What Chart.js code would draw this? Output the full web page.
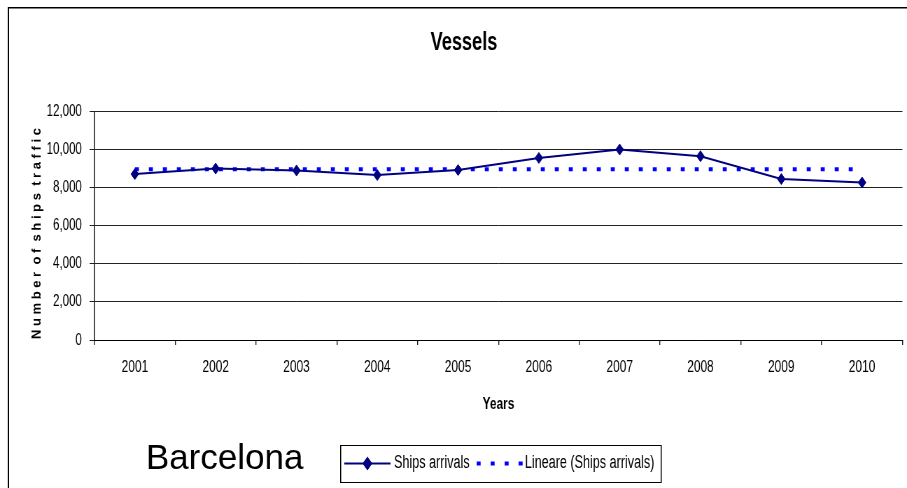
<!DOCTYPE html>
<html>
<head>
<meta charset="utf-8">
<script src="https://cdn.jsdelivr.net/npm/chart.js@4"></script>
<style>
  html, body { margin: 0; padding: 0; background: #fff; overflow: hidden; }
</style>
</head>
<body>
<canvas id="c" width="1296" height="488" style="width:907px;height:488px;display:block"></canvas>
<script>
// Ships arrivals at the port of Barcelona, 2001-2010
const years = ['2001', '2002', '2003', '2004', '2005', '2006', '2007', '2008', '2009', '2010'];
const shipArrivals = [8700, 8990, 8890, 8650, 8910, 9550, 9990, 9640, 8440, 8260];
const linearTrend = [8960, 8960, 8960, 8960, 8960, 8960, 8960, 8960, 8960, 8960];
const seriesNames = ['Ships arrivals', 'Lineare (Ships arrivals)'];
const yAxisTitle = 'N u m b e r  o f  s h i p s  t r a f f i c';
const yMin = 0, yMax = 12000, yStep = 2000;

// The drawing is laid out on a wide canvas and shown condensed horizontally
const SQUEEZE = 907 / 1296;
const FONT = "'Liberation Sans', Arial, sans-serif";

const frameAndBackground = {
  id: 'frameAndBackground',
  beforeDraw(chart) {
    const { ctx, width, height } = chart;
    ctx.save();
    ctx.fillStyle = '#ffffff';
    ctx.fillRect(0, 0, width, height);
    ctx.fillStyle = '#000000';
    ctx.fillRect(11, 7, width, 1.5);
    ctx.fillRect(11, 7, 2, height);
    ctx.restore();
  }
};

// vertical axis caption, kept at its natural proportions
const yCaption = {
  id: 'yCaption',
  afterDraw(chart) {
    const { ctx, chartArea } = chart;
    ctx.save();
    ctx.translate(53, chartArea.bottom - 1);
    ctx.scale(1 / SQUEEZE, 1);
    ctx.rotate(-Math.PI / 2);
    ctx.font = 'bold 13px ' + FONT;
    ctx.fillStyle = '#000000';
    ctx.textAlign = 'left';
    ctx.textBaseline = 'middle';
    ctx.fillText(yAxisTitle, 0, 0);
    ctx.restore();
  }
};

const boxedLegend = {
  id: 'boxedLegend',
  afterDraw(chart) {
    const { ctx } = chart;
    const ds = chart.data.datasets;
    const box = { x: 486, y: 445, w: 458, h: 37 };
    const cy = box.y + box.h / 2;
    ctx.save();
    ctx.fillStyle = '#000000';
    ctx.fillRect(box.x, box.y, box.w, 1);
    ctx.fillRect(box.x, box.y + box.h, box.w, 1);
    ctx.fillRect(box.x, box.y, 1.5, box.h + 1);
    ctx.fillRect(box.x + box.w, box.y, 1.5, box.h + 1);

    ctx.font = '18px ' + FONT;
    ctx.textBaseline = 'middle';
    ctx.textAlign = 'left';

    let x = box.x + 6;
    const sampleLen = 66;
    // first series: solid line with diamond
    ctx.strokeStyle = ds[0].borderColor;
    ctx.lineWidth = ds[0].borderWidth;
    ctx.setLineDash([]);
    ctx.beginPath();
    ctx.moveTo(x, cy);
    ctx.lineTo(x + sampleLen, cy);
    ctx.stroke();
    ctx.fillStyle = ds[0].pointBackgroundColor;
    Chart.helpers.drawPoint(ctx, { pointStyle: 'rectRot', radius: ds[0].pointRadius, borderWidth: 1, rotation: 0 }, x + sampleLen / 2, cy);
    ctx.fill();
    x += sampleLen + 5;
    ctx.fillStyle = '#000000';
    ctx.fillText(ds[0].label, x, cy);
    x += ctx.measureText(ds[0].label).width + 10;

    // second series: dotted trend line
    ctx.strokeStyle = ds[1].borderColor;
    ctx.lineWidth = ds[1].borderWidth;
    ctx.setLineDash(ds[1].borderDash);
    ctx.lineCap = 'butt';
    ctx.beginPath();
    ctx.moveTo(x, cy);
    ctx.lineTo(x + sampleLen, cy);
    ctx.stroke();
    ctx.setLineDash([]);
    x += sampleLen + 3;
    ctx.fillStyle = '#000000';
    ctx.fillText(ds[1].label, x, cy);
    ctx.restore();
  }
};

const cityLabel = {
  id: 'cityLabel',
  afterDraw(chart) {
    const { ctx } = chart;
    ctx.save();
    ctx.translate(321, 459);
    ctx.scale(1 / SQUEEZE, 1);
    ctx.font = '35px ' + FONT;
    ctx.fillStyle = '#000000';
    ctx.textAlign = 'center';
    ctx.textBaseline = 'middle';
    ctx.fillText('Barcelona', 0, 0);
    ctx.restore();
  }
};

new Chart(document.getElementById('c'), {
  type: 'line',
  data: {
    labels: years,
    datasets: [
      {
        label: seriesNames[0],
        data: shipArrivals,
        borderColor: '#000080',
        backgroundColor: '#000080',
        borderWidth: 2,
        pointStyle: 'rectRot',
        pointRadius: 5.5,
        pointBackgroundColor: '#000080',
        pointBorderColor: '#000080',
        pointBorderWidth: 1,
        tension: 0,
        fill: false
      },
      {
        label: seriesNames[1],
        data: linearTrend,
        borderColor: '#0000ff',
        borderWidth: 4,
        borderDash: [5.7, 14.3],
        borderCapStyle: 'butt',
        pointRadius: 0,
        tension: 0,
        fill: false
      }
    ]
  },
  options: {
    responsive: false,
    devicePixelRatio: 1,
    animation: false,
    events: [],
    layout: { padding: { left: 30, right: 0, top: 0, bottom: 68 } },
    plugins: {
      legend: { display: false },
      tooltip: { enabled: false },
      title: {
        display: true,
        text: 'Vessels',
        color: '#000000',
        font: { family: FONT, size: 26, weight: 'bold' },
        padding: { top: 27, bottom: 53 }
      }
    },
    scales: {
      x: {
        type: 'category',
        offset: true,
        grid: {
          display: true,
          drawOnChartArea: false,
          drawTicks: true,
          tickLength: 5,
          offset: true,
          color: '#222222',
          lineWidth: 1.4
        },
        border: { display: true, color: '#000000', width: 1 },
        ticks: {
          color: '#000000',
          padding: 12,
          maxRotation: 0,
          autoSkip: false,
          font: { family: FONT, size: 17 }
        },
        title: {
          display: true,
          text: 'Years',
          color: '#000000',
          font: { family: FONT, size: 17, weight: 'bold' },
          padding: { top: 0, bottom: 5 }
        },
        afterFit(scale) { scale.height = 80; }
      },
      y: {
        min: yMin,
        max: yMax,
        grid: {
          color: '#222222',
          lineWidth: 1,
          drawTicks: true,
          tickLength: 7
        },
        border: { display: true, color: '#000000', width: 1.4 },
        ticks: {
          stepSize: yStep,
          color: '#000000',
          padding: 11,
          font: { family: FONT, size: 16.5 },
          callback: (v) => v.toLocaleString('en-US')
        },
        title: { display: false },
        afterFit(scale) { scale.width = 105; }
      }
    }
  },
  plugins: [frameAndBackground, yCaption, boxedLegend, cityLabel]
});
</script>
</body>
</html>
